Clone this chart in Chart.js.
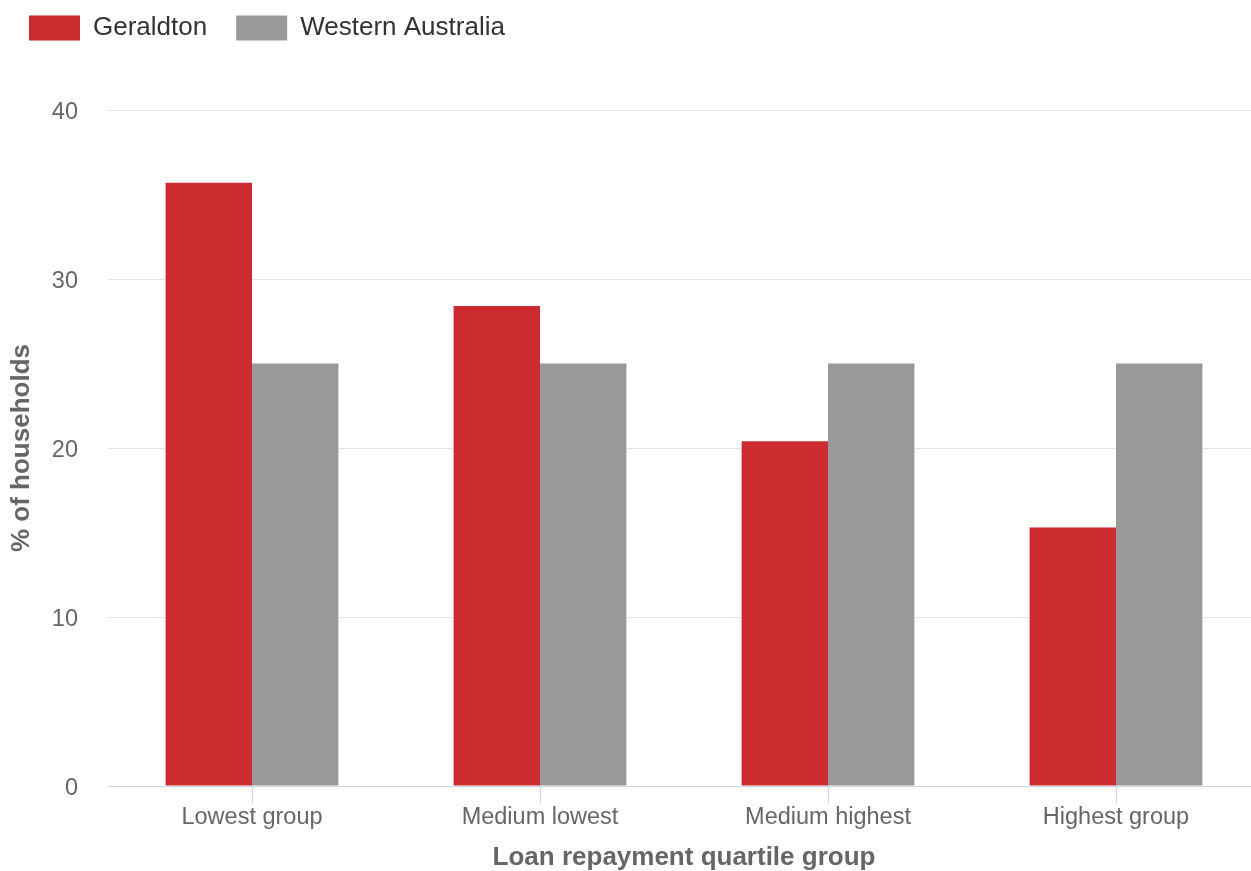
<!DOCTYPE html>
<html>
<head>
<meta charset="utf-8">
<script src="https://cdn.jsdelivr.net/npm/chart.js@4"></script>
<style>
  html, body { margin: 0; padding: 0; background: #fff; overflow: hidden; }
  #wrap { width: 1260px; height: 871px; }
</style>
</head>
<body>
<div id="wrap"><canvas id="bar"></canvas></div>
<script>
// data
const categories = ['Lowest group', 'Medium lowest', 'Medium highest', 'Highest group'];
const geraldton = [35.7, 28.4, 20.4, 15.3];
const westernAustralia = [25.0, 25.0, 25.0, 25.0];
const yTicks = [0, 10, 20, 30, 40];

const FONT = "'Liberation Sans', Arial, sans-serif";

// push the plot area down under the legend
const legendGap = {
  id: 'legendGap',
  beforeInit(chart) {
    const fit = chart.legend.fit;
    chart.legend.fit = function () {
      fit.call(this);
      this.height += 59;
    };
  }
};

const ctx = document.getElementById('bar').getContext('2d');

const barchart = new Chart(ctx, {
  type: 'bar',
  data: {
    labels: categories,
    datasets: [{
      label: 'Geraldton',
      data: geraldton,
      backgroundColor: '#cc2b30',
      borderWidth: 0
    }, {
      label: 'Western Australia',
      data: westernAustralia,
      backgroundColor: '#999999',
      borderWidth: 0
    }]
  },
  options: {
    responsive: true,
    maintainAspectRatio: false,
    animation: false,
    categoryPercentage: 0.6,
    barPercentage: 1.0,
    layout: { padding: { top: -14, left: 0, right: 0, bottom: 0 } },
    scales: {
      x: {
        offset: true,
        afterFit(axis) { axis.height = 85; },
        grid: {
          offset: false,
          drawOnChartArea: false,
          drawTicks: true,
          tickLength: 17,
          color: '#ccd6eb'
        },
        border: { color: '#ccd6eb', width: 1 },
        ticks: {
          color: '#666666',
          padding: 3,
          font: { family: FONT, size: 23.5, lineHeight: 1 }
        },
        title: {
          display: true,
          text: 'Loan repayment quartile group',
          color: '#666666',
          font: { family: FONT, size: 26, weight: 'bold', lineHeight: 1 },
          padding: { top: 10, bottom: 0 }
        }
      },
      y: {
        min: 0,
        max: 40,
        afterBuildTicks(axis) {
          axis.ticks = yTicks.map(v => ({ value: v }));
        },
        afterFit(axis) { axis.width = 108; },
        grid: { color: '#e6e6e6', drawTicks: false },
        border: { display: false },
        ticks: {
          color: '#666666',
          padding: 30,
          labelOffset: 3,
          font: { family: FONT, size: 23.5, lineHeight: 1.2 }
        },
        title: {
          display: true,
          text: '% of households',
          color: '#666666',
          font: { family: FONT, size: 26, weight: 'bold', lineHeight: 1.2 },
          padding: { top: 6, bottom: 10 }
        }
      }
    },
    plugins: {
      legend: {
        position: 'top',
        align: 'start',
        labels: {
          boxWidth: 51,
          boxHeight: 25,
          padding: 29,
          color: '#333333',
          font: { family: FONT, size: 26 }
        }
      },
      tooltip: { enabled: false }
    }
  },
  plugins: [legendGap]
});
</script>
</body>
</html>
